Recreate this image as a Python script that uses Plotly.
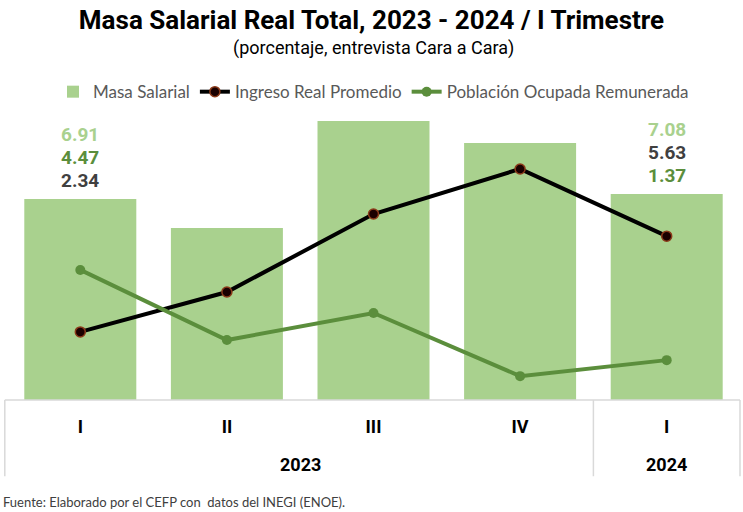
import plotly.graph_objects as go

# Quarterly data (percent)
quarters = ["I", "II", "III", "IV", "I"]
years = ["2023", "2024"]
masa_salarial = [6.91, 5.91, 9.59, 8.83, 7.08]
ingreso_real = [2.34, 3.71, 6.39, 7.94, 5.63]
poblacion_ocupada = [4.47, 2.06, 2.99, 0.82, 1.37]

x_pos = list(range(len(quarters)))

BAR_GREEN = "#a9d18e"
DARK_GREEN = "#5b8e3c"
BLACK = "#000000"
TEXT_DARK = "#404040"
NARROW = "Liberation Sans Narrow, Roboto"

fig = go.Figure()

fig.add_trace(go.Bar(
    x=x_pos, y=masa_salarial, name="Masa Salarial",
    marker=dict(color=BAR_GREEN, line=dict(width=0)),
))
fig.add_trace(go.Scatter(
    x=x_pos, y=ingreso_real, name="Ingreso Real Promedio",
    mode="lines+markers",
    line=dict(color=BLACK, width=4),
    marker=dict(size=10, color="#1a0000", line=dict(color="#8b3a1a", width=1.5)),
))
fig.add_trace(go.Scatter(
    x=x_pos, y=poblacion_ocupada, name="Población Ocupada Remunerada",
    mode="lines+markers",
    line=dict(color=DARK_GREEN, width=4),
    marker=dict(size=10, color=DARK_GREEN),
))

# Value labels on the first and last quarter
annotations = []
for i in (0, len(quarters) - 1):
    top = masa_salarial[i]
    if i == 0:
        stack = [(ingreso_real[i], TEXT_DARK), (poblacion_ocupada[i], DARK_GREEN), (masa_salarial[i], BAR_GREEN)]
    else:
        stack = [(poblacion_ocupada[i], DARK_GREEN), (ingreso_real[i], TEXT_DARK), (masa_salarial[i], BAR_GREEN)]
    for k, (val, col) in enumerate(stack):
        annotations.append(dict(
            x=i, y=top, xref="x", yref="y", text=f"<b>{val:.2f}</b>",
            showarrow=False, yanchor="bottom", yshift=5 + 23 * k,
            font=dict(family="Roboto", size=19, color=col),
        ))

# Year labels under the quarter labels
for xc, yr in ((1.5, years[0]), (4, years[1])):
    annotations.append(dict(x=xc, y=-0.223, xref="x", yref="paper", yanchor="middle",
                            text=f"<b>{yr}</b>", showarrow=False,
                            font=dict(family=NARROW, size=18, color="#000")))

# Subtitle and source note
annotations.append(dict(x=0.5, y=1.21, xref="paper", yref="paper", yanchor="middle",
                        text="(porcentaje, entrevista Cara a Cara)",
                        showarrow=False, font=dict(family=NARROW, size=18, color="#000")))
annotations.append(dict(x=-0.008, y=-0.352, xref="paper", yref="paper", xanchor="left", yanchor="middle",
                        text="Fuente: Elaborado por el CEFP con  datos del INEGI (ENOE).",
                        showarrow=False, font=dict(family="Lato", size=13, color=TEXT_DARK)))

# Table-style separators below the axis
line_style = dict(color="#d9d9d9", width=1.5)
shapes = [
    dict(type="line", xref="paper", yref="paper", x0=-0.003, x1=1.0, y0=0, y1=0, line=line_style),
    dict(type="line", xref="paper", yref="paper", x0=-0.003, x1=-0.003, y0=0, y1=-0.262, line=line_style),
    dict(type="line", xref="x", yref="paper", x0=3.5, x1=3.5, y0=0, y1=-0.262, line=line_style),
    dict(type="line", xref="paper", yref="paper", x0=1.0, x1=1.0, y0=0, y1=-0.262, line=line_style),
]

fig.update_layout(
    width=743, height=512,
    margin=dict(l=7, r=3, t=109, b=112),
    paper_bgcolor="white", plot_bgcolor="white",
    title=dict(text="<b>Masa Salarial Real Total, 2023 - 2024 / I Trimestre</b>",
               x=0.5, xanchor="center", y=0.962, yanchor="middle",
               font=dict(family=NARROW, size=26, color="#000")),
    bargap=0.236,
    showlegend=True,
    legend=dict(orientation="h", x=0.5, xanchor="center", y=1.058, yanchor="middle",
                font=dict(family="Lato", size=17, color="#595959"),
                itemwidth=30, traceorder="normal", bgcolor="rgba(0,0,0,0)"),
    xaxis=dict(tickmode="array", tickvals=x_pos, ticktext=[f"<b>{q}</b>" for q in quarters],
               range=[-0.5, 4.5],
               showgrid=False, zeroline=False, showline=False, ticks="", ticklabelstandoff=14,
               tickfont=dict(family=NARROW, size=18, color="#000"), fixedrange=True),
    yaxis=dict(range=[0, 10], visible=False, fixedrange=True),
    annotations=annotations,
    shapes=shapes,
)

fig.write_html("out.html")
